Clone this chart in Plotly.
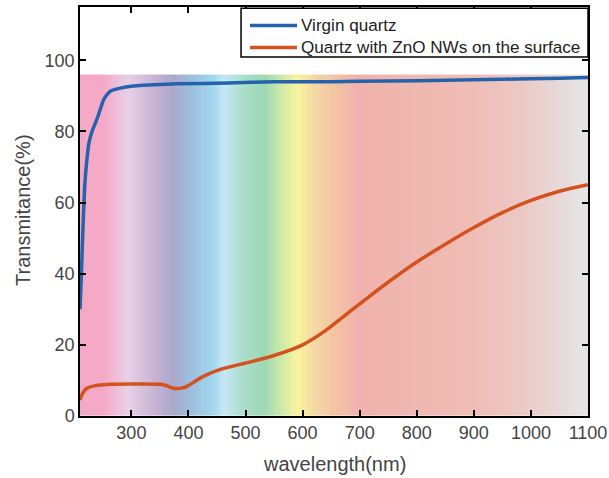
import plotly.graph_objects as go
import numpy as np

# Data
blue_wl = [210, 212, 215, 218, 222, 226, 231, 236, 242, 251, 258, 265, 281, 300, 321, 380,
           470, 550, 650, 750, 850, 950, 1000, 1050, 1100]
blue_t = [30, 38, 52, 64, 72, 77, 80, 82, 84.5, 88.8, 90.5, 91.5, 92.2, 92.7, 93, 93.4,
          93.6, 94, 94, 94.2, 94.4, 94.7, 94.8, 95, 95.2]

orange_wl = [210, 215, 222, 233, 263, 300, 351, 362, 374, 390, 398, 412, 427, 456, 503, 550,
             600, 640, 680, 720, 760, 800, 850, 900, 950, 1000, 1050, 1100]
orange_t = [4.5, 6.5, 7.8, 8.4, 8.9, 9.0, 8.9, 8.5, 7.8, 7.9, 8.4, 9.8, 11.2, 13.1, 15, 17,
            20, 24, 29, 34, 38.8, 43.3, 48.3, 53, 57.2, 60.6, 63.2, 65]

series_names = ["Virgin quartz", "Quartz with ZnO NWs on the surface"]
series_colors = ["#2463ac", "#d4521e"]

# Background spectrum stops (wavelength, colour)
spec_wl = [210, 252, 294, 343, 373, 400, 445, 462, 498, 533, 562, 591, 619, 657, 700, 707,
           760, 900, 981, 1040, 1085, 1100]
spec_col = ["#f3a9c4", "#f5a9c8", "#e8d0e6", "#c6b2d2", "#aba8cc", "#9dbcdc", "#a2d8ef",
            "#c8e6f6", "#a8dec8", "#9ed8b5", "#cce9a8", "#f8f59d", "#f5d9a5", "#f3c4a3",
            "#f2b0b0", "#f0b3ad", "#efb6ae", "#f0bdb6", "#ecc8c4", "#e8d6d5", "#e6e3e4",
            "#e6e3e4"]
spec_top = 96

x_ticks = [300, 400, 500, 600, 700, 800, 900, 1000, 1100]
y_ticks = [0, 20, 40, 60, 80, 100]

wl_min, wl_max = 210, 1100

edges = np.arange(wl_min, wl_max + 1, 2)
centers = (edges[:-1] + edges[1:]) / 2
cscale = [[(w - wl_min) / (wl_max - wl_min), c] for w, c in zip(spec_wl, spec_col)]

FONT = "Liberation Sans, Arial"

fig = go.Figure()
fig.add_trace(go.Heatmap(x=edges, y=[0, spec_top], z=[centers], colorscale=cscale,
                         zmin=wl_min, zmax=wl_max, showscale=False, hoverinfo="skip",
                         showlegend=False))
fig.add_trace(go.Scatter(x=blue_wl, y=blue_t, mode="lines", name=series_names[0],
                         showlegend=False,
                         line=dict(color=series_colors[0], width=3.5, shape="spline",
                                   smoothing=0.5)))
fig.add_trace(go.Scatter(x=orange_wl, y=orange_t, mode="lines", name=series_names[1],
                         showlegend=False,
                         line=dict(color=series_colors[1], width=3.5, shape="spline",
                                   smoothing=0.8)))

axis_common = dict(showline=True, linecolor="black", linewidth=1.5, mirror="ticks",
                   ticks="inside", ticklen=6, tickwidth=1.5, tickcolor="black",
                   showgrid=False, zeroline=False, automargin=False,
                   tickfont=dict(family=FONT, size=18, color="#444"))

fig.update_xaxes(range=[wl_min, wl_max], tickvals=x_ticks, **axis_common)
fig.update_yaxes(range=[0, 115], tickvals=y_ticks, **axis_common)

fig.add_annotation(text="wavelength(nm)", xref="paper", yref="paper", x=0.5, y=-0.118,
                   xanchor="center", yanchor="middle", showarrow=False,
                   font=dict(family=FONT, size=20, color="#444"))
fig.add_annotation(text="Transmitance(%)", xref="paper", yref="paper", x=-0.112, y=0.504,
                   xanchor="center", yanchor="middle", textangle=-90, showarrow=False,
                   font=dict(family=FONT, size=20, color="#444"))

# Legend box (drawn manually to match the reference geometry)
fig.add_shape(type="rect", xref="paper", yref="paper", x0=0.317, x1=1.0, y0=0.878, y1=0.997,
              line=dict(color="black", width=1.5), fillcolor="white", layer="above")
for i, (nm, col) in enumerate(zip(series_names, series_colors)):
    yy = 0.955 - i * 0.054
    fig.add_shape(type="line", xref="paper", yref="paper", x0=0.3346, x1=0.4272,
                  y0=yy, y1=yy, line=dict(color=col, width=3.5), layer="above")
    fig.add_annotation(text=nm, xref="paper", yref="paper", x=0.431, y=yy,
                       xanchor="left", yanchor="middle", showarrow=False,
                       font=dict(family=FONT, size=17.1, color="#222"))

fig.update_layout(width=609, height=478, margin=dict(l=80, r=21, t=7, b=62),
                  plot_bgcolor="white", paper_bgcolor="white", showlegend=False)

fig.write_html("out.html", config={"displayModeBar": False},
               post_script="document.body.style.margin='0';document.body.style.overflow='hidden';")
